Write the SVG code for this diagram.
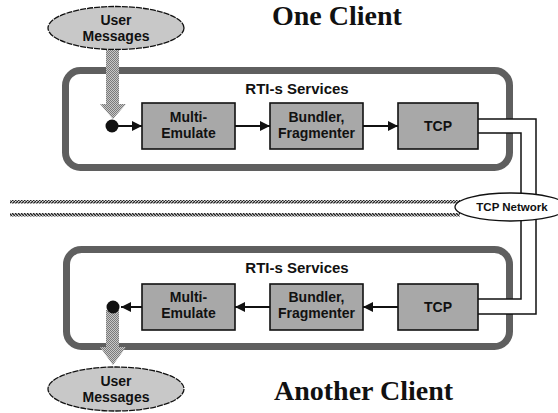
<svg xmlns="http://www.w3.org/2000/svg" width="558" height="413" viewBox="0 0 558 413">
  <defs>
    <style>
      .frame { fill: #ffffff; stroke: #5f5f5f; stroke-width: 7; }
      .box { fill: #a8a8a8; stroke: #111111; stroke-width: 1.6; }
      .oval { fill: #c8c8c8; stroke: #111111; stroke-width: 1.3; stroke-dasharray: 6 1; }
      .lbl { font-family: "Liberation Sans", Arial, sans-serif; font-weight: bold; font-size: 14px; fill: #111111; text-anchor: middle; }
      .head { font-size: 15px; }
      .title { font-family: "Liberation Serif", "Times New Roman", serif; font-weight: bold; font-size: 28px; fill: #111111; }
      .link { stroke: #111111; stroke-width: 2; fill: none; }
      .pipe { stroke: #111111; stroke-width: 1.5; fill: none; }
    </style>
    <marker id="head" viewBox="0 0 10 10" refX="10" refY="5" markerWidth="10" markerHeight="10" markerUnits="userSpaceOnUse" orient="auto">
      <path d="M0,0 L10,5 L0,10 Z" fill="#111111"/>
    </marker>
    <pattern id="dither" width="2" height="2" patternUnits="userSpaceOnUse">
      <rect width="2" height="2" fill="#c8c8c8"/>
      <rect width="1" height="1" fill="#7a7a7a"/>
      <rect x="1" y="1" width="1" height="1" fill="#7a7a7a"/>
    </pattern>
    <pattern id="hatchA" width="3" height="3" patternUnits="userSpaceOnUse">
      <rect width="3" height="3" fill="#d8d8d8"/>
      <path d="M0,3 L3,0" stroke="#222222" stroke-width="1.3"/>
    </pattern>
    <pattern id="hatchB" width="3" height="3" patternUnits="userSpaceOnUse">
      <rect width="3" height="3" fill="#d8d8d8"/>
      <path d="M0,0 L3,3" stroke="#222222" stroke-width="1.3"/>
    </pattern>
  </defs>

  <rect width="558" height="413" fill="#ffffff"/>

  <!-- titles -->
  <text class="title" x="272" y="25">One Client</text>
  <text class="title" x="274" y="400">Another Client</text>

  <!-- network cables -->
  <g id="network-lines">
    <rect x="10" y="200" width="450" height="3.5" fill="url(#hatchA)"/>
    <rect x="10" y="213" width="450" height="3.5" fill="url(#hatchB)"/>
  </g>

  <!-- client frames -->
  <g id="frame-top">
    <rect class="frame" x="65.5" y="70.5" width="444" height="97" rx="15"/>
    <text class="lbl head" x="297" y="94">RTI-s Services</text>
  </g>
  <g id="frame-bottom">
    <rect class="frame" x="66.5" y="249.5" width="443" height="97" rx="15"/>
    <text class="lbl head" x="297" y="273">RTI-s Services</text>
  </g>

  <!-- TCP channel between the two clients -->
  <g id="tcp-channel">
    <path d="M478,119 H536 V314 H478 V299 H521 V133 H478 Z" fill="#ffffff"/>
    <path class="pipe" d="M478,119 H536 V314 H478"/>
    <path class="pipe" d="M478,133 H521 V299 H478"/>
  </g>

  <g id="tcp-network">
    <ellipse cx="511" cy="207" rx="56" ry="14" fill="#ffffff" stroke="#111111" stroke-width="1.3"/>
    <text x="512" y="211" font-family="Liberation Sans, Arial, sans-serif" font-weight="bold" font-size="11.5" fill="#111111" text-anchor="middle">TCP Network</text>
  </g>

  <!-- user message inputs/outputs -->
  <g id="user-top">
    <ellipse class="oval" cx="116" cy="28" rx="68" ry="21.5"/>
    <text class="lbl" x="116" y="25">User</text>
    <text class="lbl" x="116" y="41">Messages</text>
  </g>
  <g id="user-bottom">
    <ellipse class="oval" cx="116" cy="389" rx="68" ry="22"/>
    <text class="lbl" x="116" y="386">User</text>
    <text class="lbl" x="116" y="402">Messages</text>
  </g>

  <!-- upper client modules -->
  <g id="emu-top">
    <rect class="box" x="142" y="103" width="93" height="46"/>
    <text class="lbl" x="188.5" y="122">Multi-</text>
    <text class="lbl" x="188.5" y="138">Emulate</text>
  </g>
  <g id="bundler-top">
    <rect class="box" x="270" y="103" width="93" height="46"/>
    <text class="lbl" x="316.5" y="122">Bundler,</text>
    <text class="lbl" x="316.5" y="138">Fragmenter</text>
  </g>
  <g id="tcp-top">
    <rect class="box" x="398" y="103" width="80" height="46"/>
    <text class="lbl" x="438" y="131">TCP</text>
  </g>

  <!-- lower client modules -->
  <g id="emu-bottom">
    <rect class="box" x="142" y="284" width="93" height="46"/>
    <text class="lbl" x="188.5" y="302">Multi-</text>
    <text class="lbl" x="188.5" y="318">Emulate</text>
  </g>
  <g id="bundler-bottom">
    <rect class="box" x="270" y="284" width="93" height="46"/>
    <text class="lbl" x="316.5" y="302">Bundler,</text>
    <text class="lbl" x="316.5" y="318">Fragmenter</text>
  </g>
  <g id="tcp-bottom">
    <rect class="box" x="398" y="284" width="80" height="46"/>
    <text class="lbl" x="438" y="312">TCP</text>
  </g>

  <!-- connectors -->
  <g id="connectors">
    <!-- wide message arrows -->
    <path d="M106,50 H119 V104 H126 L113,119 L100,104 H106 Z" fill="url(#dither)"/>
    <path d="M106,310 H119 V347 H126 L113,365 L100,347 H106 Z" fill="url(#dither)"/>
    <circle cx="112" cy="126" r="6.5" fill="#111111"/>
    <circle cx="113" cy="307" r="6.5" fill="#111111"/>
    <!-- upper flow -->
    <line class="link" x1="118" y1="126" x2="142" y2="126" marker-end="url(#head)"/>
    <line class="link" x1="235" y1="126" x2="270" y2="126" marker-end="url(#head)"/>
    <line class="link" x1="363" y1="126" x2="398" y2="126" marker-end="url(#head)"/>
    <!-- lower flow -->
    <line class="link" x1="398" y1="307" x2="363" y2="307" marker-end="url(#head)"/>
    <line class="link" x1="270" y1="307" x2="235" y2="307" marker-end="url(#head)"/>
    <line class="link" x1="142" y1="307" x2="121" y2="307" marker-end="url(#head)"/>
  </g>
</svg>
